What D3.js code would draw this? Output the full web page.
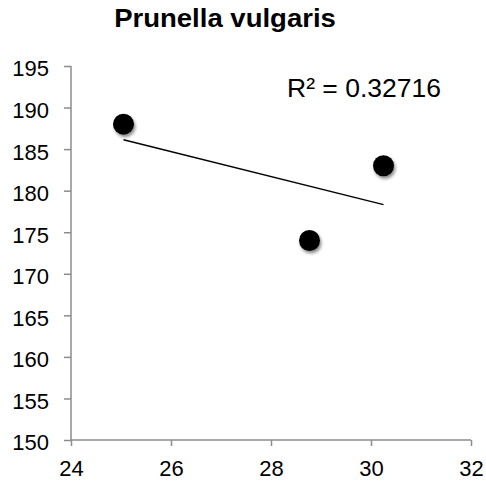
<!DOCTYPE html>
<html>
<head>
<meta charset="utf-8">
<script src="https://cdn.jsdelivr.net/npm/d3@7"></script>
<style>
  html, body { margin: 0; padding: 0; background: #fff; }
  svg { display: block; font-family: "Liberation Sans", Arial, sans-serif; }
</style>
</head>
<body>
<svg id="chart" width="486" height="486"></svg>
<script>
// Observations: temperature (x) vs. value (y)
const xValues = [25.05, 28.77, 30.25];
const yValues = [188, 174, 183];
const xTicks = [24, 26, 28, 30, 32];
const yTicks = [150, 155, 160, 165, 170, 175, 180, 185, 190, 195];
const title = "Prunella vulgaris";
const rSquaredLabel = "R\u00B2 = 0.32716";

const svg = d3.select("#chart");
const x = d3.scaleLinear().domain([24, 32]).range([71, 471]);
const y = d3.scaleLinear().domain([150, 195]).range([440, 66]);

// drop shadow for markers
const defs = svg.append("defs");
const f = defs.append("filter").attr("id", "shadow")
  .attr("x", "-50%").attr("y", "-50%").attr("width", "200%").attr("height", "200%");
f.append("feDropShadow").attr("dx", 1.5).attr("dy", 2.5).attr("stdDeviation", 1.6)
  .attr("flood-color", "#000").attr("flood-opacity", 0.45);

// axes
const axisColor = "#8c8c8c";
const yAxis = svg.append("g").attr("transform", "translate(71,0)")
  .call(d3.axisLeft(y).tickValues(yTicks).tickSize(6).tickPadding(16).tickFormat(d3.format("d")));
const xAxis = svg.append("g").attr("transform", "translate(0,440)")
  .call(d3.axisBottom(x).tickValues(xTicks).tickSize(6).tickPadding(14).tickFormat(d3.format("d")));
[xAxis, yAxis].forEach(g => {
  g.selectAll("path, line").attr("stroke", axisColor).attr("stroke-width", 1.5);
  g.select(".domain").attr("d", g === xAxis ? "M71,0H471" : "M0,66V440");
  g.selectAll("text").attr("font-size", 22).attr("fill", "#000")
    .attr("font-family", "Liberation Sans, Arial, sans-serif");
});
yAxis.selectAll(".tick line").attr("x1", -7).attr("x2", 0);
yAxis.selectAll(".tick text").attr("dy", "0.45em");

// least-squares trendline over the data range
const n = xValues.length;
const mx = d3.mean(xValues), my = d3.mean(yValues);
let sxy = 0, sxx = 0;
for (let i = 0; i < n; i++) {
  sxy += (xValues[i] - mx) * (yValues[i] - my);
  sxx += (xValues[i] - mx) ** 2;
}
const slope = sxy / sxx, intercept = my - slope * mx;
const [x0, x1] = d3.extent(xValues);
svg.append("line")
  .attr("x1", x(x0)).attr("y1", y(intercept + slope * x0))
  .attr("x2", x(x1)).attr("y2", y(intercept + slope * x1))
  .attr("stroke", "#000").attr("stroke-width", 1.5);

// markers
svg.append("g").selectAll("circle")
  .data(xValues.map((v, i) => [v, yValues[i]]))
  .join("circle")
  .attr("cx", d => x(d[0])).attr("cy", d => y(d[1]))
  .attr("r", 10.5).attr("fill", "#000")
  .attr("filter", "url(#shadow)");

// title (slightly widened bold face) and R² label
svg.append("text").attr("transform", "translate(225,27) scale(1.08,1)")
  .attr("text-anchor", "middle")
  .attr("font-size", 25.5).attr("font-weight", "bold").text(title);
svg.append("text").attr("x", 287).attr("y", 97)
  .attr("font-size", 26.5).text(rSquaredLabel);
</script>
</body>
</html>
